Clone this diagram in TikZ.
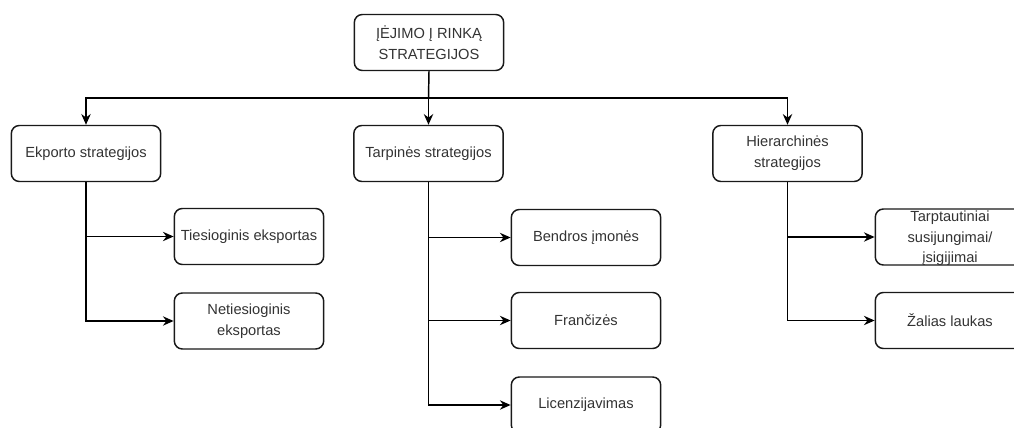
\documentclass[tikz,border=0pt]{standalone}
\usepackage{fontspec}
\setmainfont{Liberation Sans}
\usetikzlibrary{arrows.meta}
\definecolor{txt}{HTML}{333333}
\begin{document}
\begin{tikzpicture}[x=0.75pt,y=-0.75pt,
  box/.style={draw=black!90, line width=1.1pt, rounded corners=6pt,
    minimum width=112pt, minimum height=42pt, align=center,
    text=txt, font=\fontsize{11pt}{15.5pt}\selectfont, inner sep=0pt},
  conn/.style={draw=black, line width=1.1pt},
  arr/.style={conn, -{Stealth[length=8pt,width=7pt]}}]
\useasboundingbox (0,0) rectangle (1014,428);
\clip (0,0) rectangle (1014,428);
\node[box] (top) at (429,42.5) {ĮĖJIMO Į RINKĄ\\STRATEGIJOS};
\node[box] (ek) at (86,153.5) {Ekporto strategijos};
\node[box] (ta) at (428.5,153.5) {Tarpinės strategijos};
\node[box] (hi) at (787.5,153.5) {Hierarchinės\\strategijos};
\node[box] (ti) at (249,236.5) {Tiesioginis eksportas};
\node[box] (ne) at (249,321) {Netiesioginis\\eksportas};
\node[box] (be) at (586,237.5) {Bendros įmonės};
\node[box] (fr) at (586,320.5) {Frančizės};
\node[box] (li) at (586,405) {Licenzijavimas};
\node[box, text depth=0pt] (tr) at (950,237) {Tarptautiniai\\susijungimai/\\įsigijimai};
\node[box] (za) at (950,320.5) {Žalias laukas};
\coordinate (bus) at (428.5,98);
\draw[conn] (top.south) -- (bus);
\draw[arr] (bus) -| (ek.north);
\draw[arr] (bus) -| (hi.north);
\draw[arr] (bus) -- (ta.north);
\draw[arr] (ek.south) |- (ti.west);
\draw[arr] (ek.south) |- (ne.west);
\draw[arr] (ta.south) |- (be.west);
\draw[arr] (ta.south) |- (fr.west);
\draw[arr] (ta.south) |- (li.west);
\draw[arr] (hi.south) |- (tr.west);
\draw[arr] (hi.south) |- (za.west);
\end{tikzpicture}
\end{document}
